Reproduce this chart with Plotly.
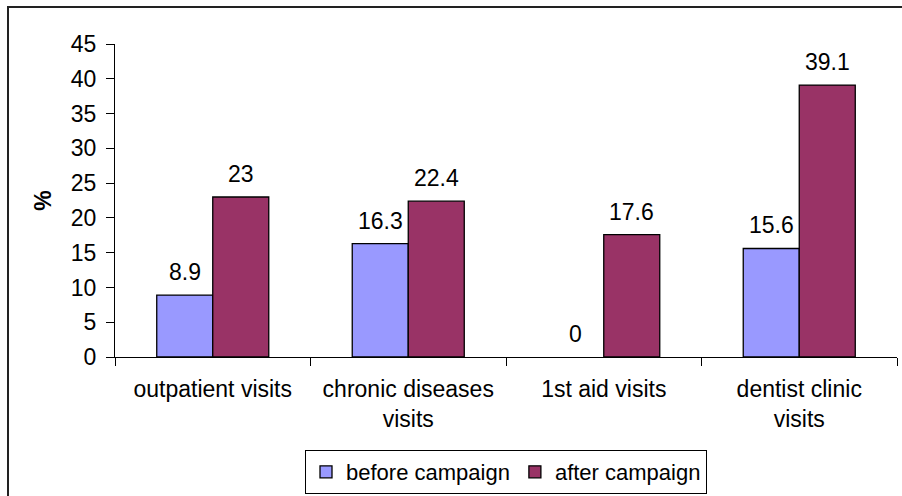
import plotly.graph_objects as go

# Visit categories and the share (%) before / after the campaign
categories = ["outpatient visits", "chronic diseases<br>visits", "1st aid visits", "dentist clinic<br>visits"]
before_campaign = [8.9, 16.3, 0, 15.6]
after_campaign = [23, 22.4, 17.6, 39.1]
y_ticks = [0, 5, 10, 15, 20, 25, 30, 35, 40, 45]

FONT = "Liberation Sans, Arial, sans-serif"
FS = 23
BLUE = "#9999FF"
PLUM = "#993366"


def outline_widths(values):
    # zero-height bars get no outline
    return [0 if v == 0 else 1.3 for v in values]


fig = go.Figure()
fig.add_trace(go.Bar(
    x=categories, y=before_campaign, name="before campaign",
    marker=dict(color=BLUE, line=dict(color="black", width=outline_widths(before_campaign))),
))
fig.add_trace(go.Bar(
    x=categories, y=after_campaign, name="after campaign",
    marker=dict(color=PLUM, line=dict(color="black", width=outline_widths(after_campaign))),
))

# Value labels above each bar
annotations = []
for series, shift in ((before_campaign, -28), (after_campaign, 28)):
    for cat, val in zip(categories, series):
        annotations.append(dict(
            x=cat, y=val, xref="x", yref="y", text=f"{val:g}",
            showarrow=False, xshift=shift, yshift=23, yanchor="middle",
            font=dict(family=FONT, size=FS, color="black"),
        ))

fig.update_layout(
    width=902, height=496,
    margin=dict(l=115, r=5, t=44, b=139, autoexpand=False),
    paper_bgcolor="white", plot_bgcolor="white",
    barmode="group", bargap=0.427, bargroupgap=0,
    font=dict(family=FONT, size=FS, color="black"),
    showlegend=True,
    legend=dict(
        orientation="h", x=0.5, xanchor="center",
        yref="container", y=1 - 494 / 496, yanchor="bottom",
        bordercolor="black", borderwidth=1, bgcolor="white",
        font=dict(family=FONT, size=22, color="black"),
        tracegroupgap=0, itemwidth=30, valign="middle",
    ),
    annotations=annotations,
    shapes=[dict(
        type="rect", xref="paper", yref="paper",
        x0=(8 - 115) / 782, x1=(915 - 115) / 782,
        y0=(357 - 510) / 313, y1=(357 - 7) / 313,
        line=dict(color="#222222", width=2), fillcolor="rgba(0,0,0,0)",
        layer="below",
    )],
)

fig.update_xaxes(
    automargin=False,
    showline=True, linecolor="black", linewidth=1.3,
    ticks="outside", tickson="boundaries", ticklen=8, tickcolor="black",
    showgrid=False, tickfont=dict(family=FONT, size=FS, color="black"),
    ticklabelstandoff=11,
)
fig.update_yaxes(
    automargin=False,
    range=[0, 45], tickvals=y_ticks, showgrid=False, zeroline=False,
    showline=True, linecolor="black", linewidth=1.3,
    ticks="outside", ticklen=8, tickcolor="black",
    tickfont=dict(family=FONT, size=FS, color="black"),
    ticklabelstandoff=5,
    title=dict(text="<b>%</b>", font=dict(family=FONT, size=FS, color="black"), standoff=12),
)

fig.write_html("out.html")
